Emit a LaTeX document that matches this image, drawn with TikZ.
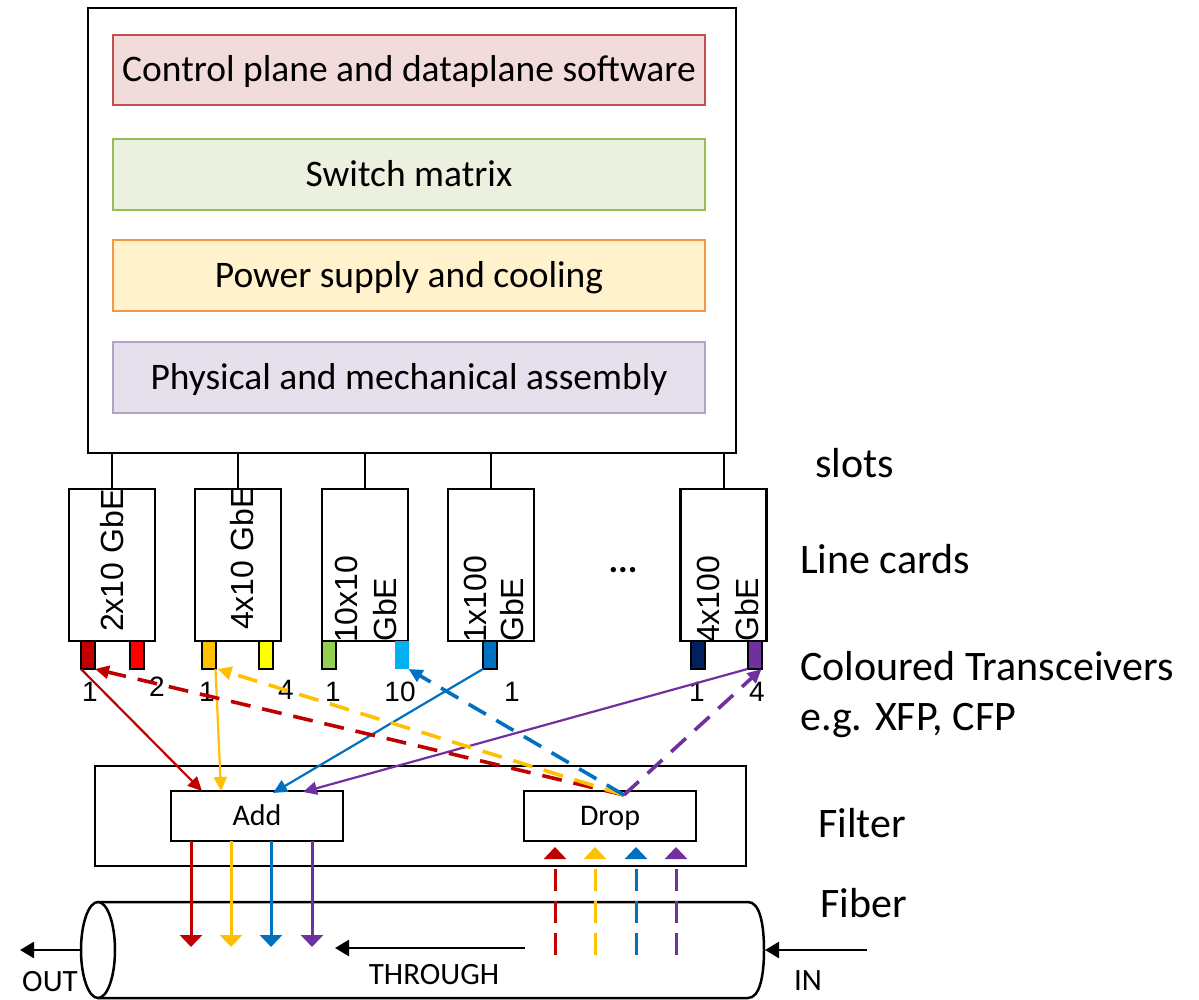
\documentclass[tikz,border=0pt]{standalone}
\usepackage{fontspec}
\setmainfont{Carlito}
\newfontfamily\arialf{Liberation Sans}
\usetikzlibrary{arrows.meta,calc}
\definecolor{cDR}{HTML}{C00000}
\definecolor{cR}{HTML}{FF0000}
\definecolor{cOr}{HTML}{FFC000}
\definecolor{cYe}{HTML}{FFFF00}
\definecolor{cGr}{HTML}{92D050}
\definecolor{cLB}{HTML}{00B0F0}
\definecolor{cBl}{HTML}{0070C0}
\definecolor{cNv}{HTML}{002060}
\definecolor{cPu}{HTML}{7030A0}
\definecolor{fCtl}{HTML}{F2DCDB}\definecolor{dCtl}{HTML}{C0504D}
\definecolor{fSw}{HTML}{EBF1DE}\definecolor{dSw}{HTML}{9BBB59}
\definecolor{fPw}{HTML}{FFF2CC}\definecolor{dPw}{HTML}{F79646}
\definecolor{fPh}{HTML}{E5E0EC}\definecolor{dPh}{HTML}{B3A2C7}
\tikzset{
  blk/.style={draw=black, line width=2.5pt, inner sep=0pt, outer sep=0pt},
  layer/.style={line width=2pt, inner sep=0pt, outer sep=0pt, minimum width=592pt, minimum height=71pt, text height=24pt, text depth=0pt, font=\fontsize{37.5}{44}\selectfont},
  card/.style={blk, minimum width=86pt, minimum height=152pt},
  trx/.style={draw=black, line width=2pt, inner sep=0pt, outer sep=0pt, minimum width=14pt, minimum height=28pt},
  cardtxt/.style={rotate=90, anchor=base west, inner sep=0pt, font=\arialf\fontsize{32}{38}\selectfont},
  num/.style={inner sep=0pt, font=\arialf\fontsize{28}{32}\selectfont},
  rlab/.style={anchor=base west, inner sep=0pt, font=\fontsize{42}{50}\selectfont},
  bot/.style={inner sep=0pt, font=\fontsize{31}{36}\selectfont},
  tip/.style={-{Triangle[length=14pt,width=13pt]}},
  wtip/.style={-{Triangle[length=12pt,width=22pt]}},
  sol/.style={line width=2.2pt, tip},
  dsh/.style={line width=3.6pt, dash pattern=on 20pt off 12pt, tip},
  vsol/.style={line width=3pt, wtip},
  vdsh/.style={line width=3pt, dash pattern=on 22pt off 10pt, wtip},
  filt/.style={blk, minimum width=172pt, minimum height=50pt, text height=19.5pt, text depth=0pt, font=\fontsize{30}{36}\selectfont},
}
\begin{document}
\begin{tikzpicture}[x=1pt,y=-1pt]
\useasboundingbox (0,0) rectangle (1199,1000);
% main chassis
\node[blk, minimum width=648pt, minimum height=445pt] (main) at (412,230.5) {};
\node[layer, draw=dCtl, fill=fCtl, minimum height=70pt] (ctl) at (409,70) {Control plane and dataplane software};
\node[layer, draw=dSw, fill=fSw] (sw) at (409,174.5) {Switch matrix};
\node[layer, draw=dPw, fill=fPw] (pw) at (409,275.5) {Power supply and cooling};
\node[layer, draw=dPh, fill=fPh] (ph) at (409,377.5) {Physical and mechanical assembly};
% line cards
\node[card] (c1) at (112,565) {};
\node[card] (c2) at (238,565) {};
\node[card] (c3) at (365,565) {};
\node[card] (c4) at (491,565) {};
\node[card] (c5) at (723.5,565) {};
\foreach \c in {c1,c2,c3,c4,c5}{
  \draw[line width=2pt] (\c.north) -- (\c.north |- main.south);
}
\node[cardtxt] (t1) at (123,632) {2x10 GbE};
\node[cardtxt] (t2) at (253,630) {4x10 GbE};
\node[cardtxt] (t3a) at (357,643) {10x10};
\node[cardtxt] (t3b) at (396,642) {GbE};
\node[cardtxt] (t4a) at (486,643) {1x100};
\node[cardtxt] (t4b) at (523,642) {GbE};
\node[cardtxt] (t5a) at (719,643) {4x100};
\node[cardtxt] (t5b) at (758,642) {GbE};
\node[inner sep=0pt, font=\bfseries\fontsize{36}{40}\selectfont] (dots) at (623,570) {...};
% transceivers
\node[trx, fill=cDR] (x1) at (88,655) {};
\node[trx, fill=cR] (x2) at (136.5,655) {};
\node[trx, fill=cOr] (x3) at (208.5,655) {};
\node[trx, fill=cYe] (x4) at (265.5,655) {};
\node[trx, fill=cGr] (x5) at (329,655) {};
\node[trx, draw=none, fill=cLB] (x6) at (401.5,655) {};
\node[trx, fill=cBl] (x7) at (490,655) {};
\node[trx, fill=cNv] (x8) at (698,655) {};
\node[trx, fill=cPu] (x9) at (754.5,655) {};
% numbers
\node[num] (n1) at (90,692) {1};
\node[num] (n2) at (157,687) {2};
\node[num] (n3) at (207,692) {1};
\node[num] (n4) at (286,690) {4};
\node[num] (n5) at (333,692) {1};
\node[num] (n6) at (400,692) {10};
\node[num] (n7) at (512,692) {1};
\node[num] (n8) at (697,692) {1};
\node[num] (n9) at (757,692) {4};
% filter
\node[blk, minimum width=651pt, minimum height=100pt] (filter) at (420.5,816) {};
\node[filt] (add) at (257,816) {Add};
\node[filt] (drop) at (610,816) {Drop};
% coordinates on add / drop
\coordinate (ai1) at ($(add.north west)+(31,0)$);
\coordinate (ai2) at ($(add.north west)+(50,0)$);
\coordinate (ai3) at ($(add.north west)+(102,2)$);
\coordinate (ai4) at ($(add.north west)+(132,1)$);
\coordinate (dout) at ($(drop.north)+(14,4)$);
% solid connectors to add
\draw[sol, cDR] (x1.south west) -- (ai1);
\draw[sol, cOr] (x3.south east) -- (ai2);
\draw[sol, cBl] (x7.south west) -- (ai3);
\draw[sol, cPu] (x9.south west) -- (ai4);
% dashed connectors from drop
\draw[dsh, cDR] (dout) -- (x1.south east);
\draw[dsh, cOr] (dout) -- ($(x3.south east)+(2,0)$);
\draw[dsh, cBl] (dout) -- (x6.south east);
\draw[dsh, cPu] (dout) -- (x9.south east);
% fiber
\draw[line width=2.5pt] (98,902) -- (748,902) .. controls (760,902) and (764,925) .. (764,950) .. controls (764,975) and (760,998) .. (748,998) -- (98,998);
\draw[line width=2.5pt, fill=white] (98,950) ellipse [x radius=17, y radius=48];
\coordinate (fibL) at (81,950);
\coordinate (fibR) at (765,950);
\coordinate (outE) at (20,950);
\coordinate (inS) at (867,950);
\coordinate (thS) at (525,948);
\coordinate (thE) at (335,948);
% add down arrows
\foreach \dx/\col in {20/cDR,60/cOr,100/cBl,141/cPu}{
  \draw[vsol, \col] ($(add.south west)+(\dx,0)$) -- ($(add.south west)+(\dx,106)$);
}
% drop up arrows
\foreach \dx/\col in {31/cDR,71/cOr,112/cBl,152/cPu}{
  \draw[vdsh, \col] ($(drop.south west)+(\dx,114)$) -- ($(drop.south west)+(\dx,6)$);
}
% through, in, out
\draw[line width=2.5pt, -{Triangle[length=14pt,width=16pt]}] (thS) -- (thE);
\draw[line width=2.5pt, -{Triangle[length=14pt,width=16pt]}] (inS) -- (fibR);
\draw[line width=2.5pt, -{Triangle[length=14pt,width=16pt]}] (fibL) -- (outE);
\node[bot] (lthr) at (434,975) {THROUGH};
\node[bot] (lin) at (808,981) {IN};
\node[bot] (lout) at (50,982) {OUT};
% right labels
\node[rlab] (lslots) at (815,477) {slots};
\node[rlab] (lcards) at (800,573) {Line cards};
\node[rlab] (ltrx) at (800,680) {Coloured Transceivers};
\node[rlab] (leg) at (800,730) {e.g. XFP, CFP};
\node[rlab] (lfil) at (818,837) {Filter};
\node[rlab] (lfib) at (820,917) {Fiber};
\end{tikzpicture}
\end{document}
